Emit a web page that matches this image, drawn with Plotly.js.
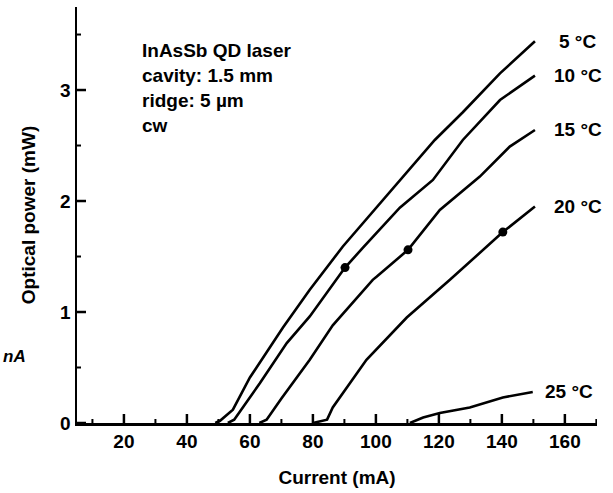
<!DOCTYPE html>
<html>
<head>
<meta charset="utf-8">
<script src="https://cdn.plot.ly/plotly-3.0.1.min.js"></script>
<style>html,body{margin:0;padding:0;background:#fff;}#chart{width:613px;height:493px;}</style>
</head>
<body>
<div id="chart"></div>
<script>
// ---- data ----
const seriesNames = ["5 °C", "10 °C", "15 °C", "20 °C", "25 °C"];
const current5  = [49, 50.5, 54.6, 57.5, 60, 70.5, 79, 89.5, 107.6, 118.7, 127.6, 139.4, 150.5];
const power5    = [0, 0.02, 0.12, 0.28, 0.41, 0.86, 1.20, 1.59, 2.19, 2.55, 2.80, 3.15, 3.44];
const current10 = [53, 55, 63.2, 71.7, 79, 87.6, 90.2, 95.9, 107.6, 118.1, 127.6, 139.4, 150.5];
const power10   = [0, 0.03, 0.36, 0.72, 0.96, 1.29, 1.40, 1.58, 1.94, 2.19, 2.55, 2.91, 3.13];
const current15 = [63, 65.3, 70, 75.9, 79, 86.3, 99, 100.3, 110.2, 120.3, 133, 142.5, 150.5];
const power15   = [0, 0.03, 0.22, 0.45, 0.57, 0.88, 1.29, 1.32, 1.56, 1.92, 2.22, 2.49, 2.64];
const current20 = [80, 84.5, 86.3, 97, 109.8, 123.5, 140.3, 150.5];
const power20   = [0, 0.03, 0.14, 0.57, 0.95, 1.29, 1.72, 1.95];
const current25 = [110.8, 115, 120.3, 129.8, 140.3, 149.8];
const power25   = [0, 0.05, 0.09, 0.14, 0.23, 0.28];
const markerCurrent = [90.2, 110.2, 140.3];
const markerPower   = [1.40, 1.56, 1.72];
const infoLines = ["InAsSb QD laser", "cavity: 1.5 mm", "ridge: 5 µm", "cw"];
const xMajorTicks = [20, 40, 60, 80, 100, 120, 140, 160];
const xMinorTicks = [10, 30, 50, 70, 90, 110, 130, 150, 170];
const yMajorTicks = [0, 1, 2, 3];
const yMinorTicks = [0.5, 1.5, 2.5, 3.5];
const xTitle = "Current (mA)";
const yTitle = "Optical power (mW)";
const strayText = "nA";

// ---- drawing ----
const FONT = "Liberation Sans, Arial, Helvetica, sans-serif";
const currents = [current5, current10, current15, current20, current25];
const powers = [power5, power10, power15, power20, power25];

const traces = currents.map((c, i) => ({
  x: c, y: powers[i], type: "scatter", mode: "lines",
  line: {color: "#000", width: 2.6}, name: seriesNames[i], hoverinfo: "skip"
}));
traces.push({
  x: markerCurrent, y: markerPower, type: "scatter", mode: "markers",
  marker: {color: "#000", size: 9}, hoverinfo: "skip"
});

// plot box in pixels
const L = 77, R = 597, T = 7, B = 423;
const px = v => (v - L) / (R - L);
const py = v => (B - v) / (B - T);

const labelShift = [22, 17, 17, 17, 10];
const annotations = seriesNames.map((n, i) => ({
  x: currents[i][currents[i].length - 1], y: powers[i][powers[i].length - 1],
  xref: "x", yref: "y", text: n, showarrow: false,
  xanchor: "left", yanchor: "middle", xshift: labelShift[i],
  font: {family: FONT, size: 19, color: "#000", weight: "bold"}
}));
const infoCenters = [51, 76, 100, 125];
infoLines.forEach((t, i) => annotations.push({
  x: px(140), y: py(infoCenters[i]), xref: "paper", yref: "paper",
  text: t, showarrow: false, xanchor: "left", yanchor: "middle",
  font: {family: FONT, size: 19, color: "#000", weight: "bold"}
}));
annotations.push({
  x: px(1), y: py(356), xref: "paper", yref: "paper", text: "<i>" + strayText + "</i>",
  showarrow: false, xanchor: "left", yanchor: "middle",
  font: {family: FONT, size: 17, color: "#000", weight: "bold"}
});

// inward tick marks, anchored to the axis values
const tickShapes = [];
const xTick = (v, len, w) => tickShapes.push({
  type: "line", xref: "x", yref: "paper", ysizemode: "pixel", yanchor: 0,
  x0: v, x1: v, y0: 0, y1: len, line: {color: "#000", width: w}, layer: "above"
});
const yTick = (v, len, w) => tickShapes.push({
  type: "line", yref: "y", xref: "paper", xsizemode: "pixel", xanchor: 0,
  y0: v, y1: v, x0: 0, x1: len, line: {color: "#000", width: w}, layer: "above"
});
xMajorTicks.forEach(v => xTick(v, 9, 2.5));
xMinorTicks.forEach(v => xTick(v, 4, 2));
yMajorTicks.forEach(v => yTick(v, 9, 2.5));
yMinorTicks.forEach(v => yTick(v, 4, 2));

const axisFont = {family: FONT, size: 19, color: "#000", weight: "bold"};
const layout = {
  width: 613, height: 493,
  margin: {l: L, r: 613 - R, t: T, b: 493 - B, pad: 0},
  paper_bgcolor: "#fff", plot_bgcolor: "#fff",
  showlegend: false,
  xaxis: {
    range: [5.1, 170.2], showgrid: false, zeroline: false,
    showline: true, linecolor: "#000", linewidth: 2.5,
    tickmode: "array", tickvals: xMajorTicks,
    ticks: "inside", ticklen: 9, tickwidth: 2.5, tickcolor: "#000",
    tickfont: axisFont,
    title: {text: xTitle, font: axisFont, standoff: 20}
  },
  yaxis: {
    range: [0, 3.748], showgrid: false, zeroline: false,
    showline: true, linecolor: "#000", linewidth: 2.5,
    tickmode: "array", tickvals: yMajorTicks,
    ticks: "inside", ticklen: 9, tickwidth: 2.5, tickcolor: "#000",
    tickfont: axisFont,
    title: {text: yTitle, font: axisFont, standoff: 20}
  },
  shapes: tickShapes,
  annotations: annotations
};

Plotly.newPlot("chart", traces, layout, {staticPlot: true, displayModeBar: false});
</script>
</body>
</html>
